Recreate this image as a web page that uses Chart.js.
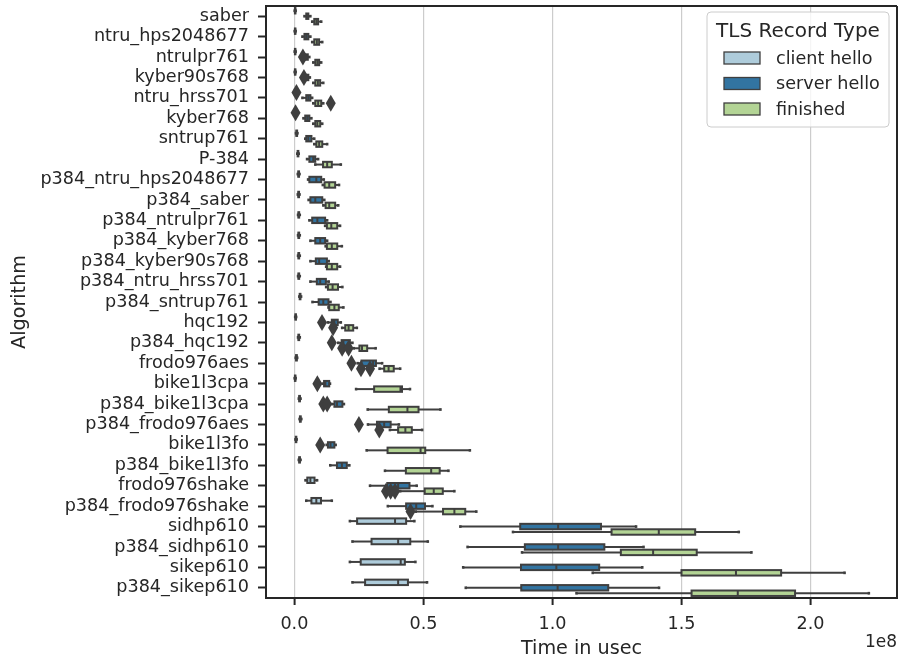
<!DOCTYPE html>
<html>
<head>
<meta charset="utf-8">
<script src="https://cdn.jsdelivr.net/npm/chart.js@4.4.1/dist/chart.umd.min.js"></script>
<style>
  html, body { margin: 0; padding: 0; background: #ffffff; }
  #wrap { width: 900px; height: 662px; }
</style>
</head>
<body>
<div id="wrap"><canvas id="chart" width="900" height="662"></canvas></div>
<script>
// Handshake record timings per key-exchange algorithm.
// Each summary is [lower whisker, Q1, median, Q3, upper whisker], in millions of usec.
const algorithms = [
  "saber", "ntru_hps2048677", "ntrulpr761", "kyber90s768", "ntru_hrss701",
  "kyber768", "sntrup761", "P-384", "p384_ntru_hps2048677", "p384_saber",
  "p384_ntrulpr761", "p384_kyber768", "p384_kyber90s768", "p384_ntru_hrss701",
  "p384_sntrup761", "hqc192", "p384_hqc192", "frodo976aes", "bike1l3cpa",
  "p384_bike1l3cpa", "p384_frodo976aes", "bike1l3fo", "p384_bike1l3fo",
  "frodo976shake", "p384_frodo976shake", "sidhp610", "p384_sidhp610",
  "sikep610", "p384_sikep610"
];

const recordTypes = ["client hello", "server hello", "finished"];

const clientHello = [
  [0.1, 0.2, 0.3, 0.4, 0.5], [0.1, 0.2, 0.3, 0.4, 0.5], [0.1, 0.2, 0.3, 0.4, 0.5],
  [0.1, 0.2, 0.3, 0.4, 0.5], [0.1, 0.15, 0.25, 0.35, 0.45], [0.05, 0.1, 0.2, 0.3, 0.35],
  [0.6, 0.75, 0.9, 1.05, 1.2], [1.1, 1.25, 1.4, 1.55, 1.7], [1.3, 1.5, 1.65, 1.8, 2.0],
  [1.3, 1.5, 1.65, 1.8, 2.0], [1.4, 1.55, 1.7, 1.85, 2.1], [1.4, 1.55, 1.7, 1.85, 2.1],
  [1.4, 1.55, 1.7, 1.85, 2.1], [1.4, 1.55, 1.7, 1.85, 2.1], [1.9, 2.05, 2.2, 2.35, 2.6],
  [0.3, 0.4, 0.5, 0.6, 0.7], [1.4, 1.55, 1.7, 1.85, 2.1], [0.5, 0.65, 0.8, 0.95, 1.1],
  [0.1, 0.2, 0.3, 0.4, 0.5], [1.7, 1.85, 2.0, 2.15, 2.4], [2.0, 2.15, 2.3, 2.45, 2.7],
  [0.4, 0.55, 0.65, 0.75, 0.9], [1.7, 1.85, 2.0, 2.15, 2.4], [4.3, 5.0, 6.2, 7.8, 8.8],
  [4.6, 6.6, 8.5, 10.3, 14.5], [21.5, 24.3, 39.0, 43.3, 46.5], [22.5, 29.9, 40.2, 44.9, 51.7],
  [21.5, 25.7, 41.2, 42.8, 46.9], [22.5, 27.4, 40.2, 44.0, 51.4]
];

const serverHello = [
  [3.9, 4.6, 5.0, 5.4, 6.2], [3.1, 3.9, 4.6, 5.4, 6.2], [4.0, 4.4, 4.8, 5.2, 5.8],
  [4.3, 4.6, 5.0, 5.4, 6.0], [3.1, 4.6, 5.4, 6.2, 6.9], [3.5, 4.2, 5.0, 5.8, 6.6],
  [4.2, 4.6, 5.4, 6.6, 7.7], [4.9, 5.8, 7.3, 8.1, 9.2], [5.3, 5.8, 8.5, 10.4, 11.4],
  [5.5, 6.2, 8.1, 10.8, 11.6], [5.8, 6.9, 8.9, 11.9, 12.7], [6.2, 8.1, 10.0, 11.9, 12.7],
  [6.2, 8.3, 9.6, 12.6, 13.3], [6.2, 8.7, 10.0, 12.2, 13.3], [7.0, 9.4, 11.2, 13.2, 14.0],
  [13.0, 14.5, 15.5, 16.8, 18.0], [17.0, 18.3, 19.0, 21.5, 22.5], [24.5, 26.0, 30.5, 31.6, 34.0],
  [11.0, 11.5, 12.0, 13.5, 13.8], [14.5, 15.5, 16.5, 18.6, 19.2], [28.5, 32.0, 34.8, 37.3, 40.5],
  [12.5, 13.0, 14.0, 15.5, 16.0], [13.9, 16.5, 18.4, 20.3, 21.3], [29.3, 36.0, 40.2, 44.6, 47.4],
  [36.2, 43.3, 47.2, 50.6, 53.5], [64.3, 87.5, 102.2, 118.8, 132.4], [67.1, 89.3, 102.2, 120.1, 135.3],
  [65.4, 87.8, 101.5, 118.1, 134.8], [66.4, 87.9, 102.0, 121.6, 141.3]
];

const finishedMsg = [
  [6.9, 7.7, 8.5, 9.2, 10.4], [6.9, 7.7, 8.7, 9.6, 10.8], [7.3, 8.1, 8.9, 9.6, 10.4],
  [7.3, 8.1, 9.1, 10.0, 11.2], [7.3, 8.1, 9.2, 10.4, 11.2], [7.3, 8.1, 8.9, 10.0, 10.8],
  [7.7, 8.5, 9.6, 10.8, 12.7], [8.1, 11.1, 12.7, 14.5, 18.0], [11.0, 11.7, 13.5, 15.8, 17.3],
  [11.2, 12.1, 13.5, 15.8, 17.0], [11.9, 12.6, 14.3, 16.6, 17.7], [12.1, 12.6, 14.5, 16.6, 18.4],
  [12.3, 12.6, 14.5, 16.6, 17.7], [12.3, 13.0, 14.8, 16.9, 18.6], [13.2, 13.5, 15.5, 17.2, 19.0],
  [18.5, 19.7, 21.0, 22.8, 24.2], [23.0, 25.2, 26.2, 28.2, 31.5], [33.0, 34.8, 36.5, 38.5, 41.0],
  [23.9, 30.9, 41.1, 41.7, 44.8], [28.4, 36.6, 43.8, 48.1, 56.6], [37.0, 40.2, 43.0, 45.5, 49.5],
  [28.0, 36.1, 48.9, 50.7, 68.0], [35.1, 43.2, 53.0, 56.3, 59.7], [41.0, 50.5, 54.0, 57.5, 62.0],
  [47.0, 57.6, 62.0, 66.2, 70.5], [84.7, 122.9, 141.2, 155.3, 172.2], [88.2, 126.5, 139.0, 155.9, 177.1],
  [115.6, 150.0, 171.1, 188.6, 213.2], [109.3, 153.9, 171.8, 194.0, 222.6]
];

// Points beyond the whiskers, listed per algorithm (millions of usec).
const clientOutliers = [
  [], [], [], [], [0.8], [0.45], [], [], [], [], [], [], [], [], [],
  [], [], [], [], [], [], [], [], [], [], [], [], [], []
];
const serverOutliers = [
  [], [], [3.3], [3.7], [], [], [], [], [], [], [], [], [], [], [],
  [10.7], [14.5], [22.1], [8.9], [11.2, 12.7], [25.0], [10.0], [], [], [], [], [], [], []
];
const finishedOutliers = [
  [], [], [], [], [14.1], [], [], [], [], [], [], [], [], [], [],
  [15.0], [18.5, 21.0], [25.8, 29.3], [], [], [32.9], [], [], [35.5, 37.3, 39.0], [45.0], [], [], [], []
];

const xTicks = [0, 50, 100, 150, 200];
const xMin = -11;
const xMax = 233.5;

const EDGE = "#3f3f3f";
const INK = "#262626";
const FONT = "'DejaVu Sans', sans-serif";
const colors = ["#aeccdb", "#3274a1", "#b3d495"];

const series = [clientHello, serverHello, finishedMsg];
const outliers = [clientOutliers, serverOutliers, finishedOutliers];

const datasets = recordTypes.map((name, k) => ({
  label: name,
  data: series[k].map(s => [s[1], s[3]]),
  stats: series[k],
  fliers: outliers[k],
  backgroundColor: colors[k],
  borderWidth: 0,
  borderSkipped: false,
  categoryPercentage: 0.8,
  barPercentage: 1.0
}));

function strokeLine(ctx, x1, y1, x2, y2) {
  ctx.beginPath();
  ctx.moveTo(x1, y1);
  ctx.lineTo(x2, y2);
  ctx.stroke();
}

// Whiskers, caps, box outlines, medians and fliers, drawn category by category
const boxPlot = {
  id: "boxPlot",
  afterDatasetsDraw(chart) {
    const ctx = chart.ctx;
    const xs = chart.scales.x;
    const px = v => xs.getPixelForValue(v);
    ctx.save();
    for (let i = 0; i < algorithms.length; i++) {
      chart.data.datasets.forEach((ds, d) => {
        const meta = chart.getDatasetMeta(d);
        const el = meta.data[i];
        if (!el) return;
        const y = el.y, h = el.height;
        el.draw(ctx);
        const [lo, q1, med, q3, hi] = ds.stats[i].map(px);
        ctx.strokeStyle = EDGE;
        ctx.lineWidth = 2;
        ctx.lineCap = "butt";
        strokeLine(ctx, lo, y, q1, y);
        strokeLine(ctx, q3, y, hi, y);
        ctx.lineWidth = 2.5;
        strokeLine(ctx, lo, y - h / 4, lo, y + h / 4);
        strokeLine(ctx, hi, y - h / 4, hi, y + h / 4);
        ctx.lineWidth = 2;
        ctx.strokeRect(q1, y - h / 2, q3 - q1, h);
        strokeLine(ctx, med, y - h / 2, med, y + h / 2);
        ctx.fillStyle = EDGE;
        (ds.fliers[i] || []).forEach(v => {
          const fx = px(v);
          ctx.beginPath();
          ctx.moveTo(fx, y - 8.5);
          ctx.lineTo(fx + 5, y);
          ctx.lineTo(fx, y + 8.5);
          ctx.lineTo(fx - 5, y);
          ctx.closePath();
          ctx.fill();
        });
      });
    }
    ctx.restore();
  }
};

// Frame on top and right, scale offset text and the record-type legend
const decorations = {
  id: "decorations",
  afterDraw(chart) {
    const ctx = chart.ctx;
    const a = chart.chartArea;
    ctx.save();
    ctx.strokeStyle = INK;
    ctx.lineWidth = 2;
    strokeLine(ctx, a.left - 1, a.top, a.right, a.top);
    strokeLine(ctx, a.right, a.top, a.right, a.bottom + 1);

    ctx.fillStyle = INK;
    ctx.font = "17px " + FONT;
    ctx.textAlign = "right";
    ctx.textBaseline = "alphabetic";
    ctx.fillText("1e8", a.right, 647);

    // legend
    const lx = 707, ly = 12, lw = 182, lh = 115;
    ctx.beginPath();
    ctx.roundRect(lx, ly, lw, lh, 4);
    ctx.fillStyle = "rgba(255,255,255,0.8)";
    ctx.fill();
    ctx.strokeStyle = "#cccccc";
    ctx.lineWidth = 1;
    ctx.stroke();

    ctx.fillStyle = INK;
    ctx.font = "20px " + FONT;
    ctx.textAlign = "center";
    ctx.textBaseline = "middle";
    ctx.fillText("TLS Record Type", lx + lw / 2, 32);

    ctx.font = "17.6px " + FONT;
    ctx.textAlign = "left";
    chart.data.datasets.forEach((ds, k) => {
      const cy = 58 + k * 25.5;
      ctx.fillStyle = ds.backgroundColor;
      ctx.fillRect(724, cy - 6, 36, 12);
      ctx.strokeStyle = EDGE;
      ctx.lineWidth = 1.3;
      ctx.strokeRect(724, cy - 6, 36, 12);
      ctx.fillStyle = INK;
      ctx.fillText(ds.label, 776, cy + 1);
    });
    ctx.restore();
  }
};

new Chart(document.getElementById("chart"), {
  type: "bar",
  data: { labels: algorithms, datasets },
  options: {
    indexAxis: "y",
    responsive: false,
    animation: false,
    devicePixelRatio: 1,
    layout: { padding: { left: 0, top: 6, right: 3, bottom: 0 } },
    plugins: { legend: { display: false }, tooltip: { enabled: false } },
    scales: {
      x: {
        type: "linear",
        min: xMin,
        max: xMax,
        afterBuildTicks: s => { s.ticks = xTicks.map(v => ({ value: v })); },
        afterFit: s => { s.height = 64; s.paddingLeft = 0; s.paddingRight = 0; },
        ticks: {
          color: INK,
          font: { family: FONT, size: 17.6 },
          padding: 9,
          maxRotation: 0,
          callback: v => (v / 100).toFixed(1)
        },
        grid: {
          color: "#cccccc",
          lineWidth: 1.2,
          tickColor: INK,
          tickLength: 7,
          tickWidth: 2
        },
        border: { display: true, color: INK, width: 2 },
        title: {
          display: true,
          text: "Time in usec",
          color: INK,
          font: { family: FONT, size: 19.2 },
          padding: { top: 0, bottom: 1 }
        }
      },
      y: {
        type: "category",
        afterFit: s => { s.width = 266; s.paddingTop = 0; s.paddingBottom = 0; },
        ticks: {
          color: INK,
          font: { family: FONT, size: 17.6 },
          padding: 9,
          autoSkip: false
        },
        grid: {
          display: true,
          drawOnChartArea: false,
          offset: false,
          tickColor: INK,
          tickLength: 8,
          tickWidth: 2
        },
        border: { display: true, color: INK, width: 2 },
        title: {
          display: true,
          text: "Algorithm",
          color: INK,
          font: { family: FONT, size: 19.2 },
          padding: { top: 8, bottom: 0 }
        }
      }
    }
  },
  plugins: [boxPlot, decorations]
});
</script>
</body>
</html>
